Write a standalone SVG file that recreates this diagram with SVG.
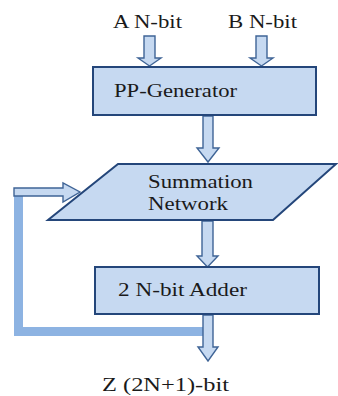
<svg xmlns="http://www.w3.org/2000/svg" width="338" height="396" viewBox="0 0 338 396">
<style>
.box{fill:#c6d9f1;stroke:#24467a;stroke-width:2}
.arr{fill:#c6d9f1;stroke:#3f6496;stroke-width:1.4;stroke-linejoin:miter}
.fb{fill:#8db3e2}
.t{font-family:'Liberation Serif','Times New Roman',serif;font-size:18.5px;fill:#1a1a1a}
</style>
<rect width="338" height="396" fill="#ffffff"/>
<g id="connectors">
<rect class="fb" x="14" y="196" width="9" height="140"/>
<rect class="fb" x="14" y="327" width="190" height="9"/>
<polygon class="arr" points="144,36 155,36 155,58 161,58 149.5,66 138,58 144,58"/>
<polygon class="arr" points="256,36 267,36 267,58 273,58 261.5,66 250,58 256,58"/>
<polygon class="arr" points="203,116 213,116 213,148 219,148 208,162 197,148 203,148"/>
<polygon class="arr" points="202,221 213,221 213,256 218,256 207.5,267 197,256 202,256"/>
<polygon class="arr" points="203,315 213,315 213,347 218,347 208,361 198,347 203,347"/>
<polygon class="arr" points="14,188 63,188 63,183 80,192 63,202 63,196 14,196"/>
</g>
<g id="in-a"><text class="t" x="113" y="28" textLength="69" lengthAdjust="spacingAndGlyphs">A N-bit</text></g>
<g id="in-b"><text class="t" x="228" y="28" textLength="69" lengthAdjust="spacingAndGlyphs">B N-bit</text></g>
<g id="pp-generator">
<rect class="box" x="93" y="67" width="223" height="48"/>
<text class="t" x="114" y="97" textLength="123" lengthAdjust="spacingAndGlyphs">PP-Generator</text>
</g>
<g id="summation-network">
<polygon class="box" points="118,164 336,164 273,220 48,220"/>
<text class="t" x="148" y="188" textLength="105" lengthAdjust="spacingAndGlyphs">Summation</text>
<text class="t" x="148" y="210" textLength="80" lengthAdjust="spacingAndGlyphs">Network</text>
</g>
<g id="adder">
<rect class="box" x="95" y="267" width="224" height="47"/>
<text class="t" x="118" y="296" textLength="129" lengthAdjust="spacingAndGlyphs">2 N-bit Adder</text>
</g>
<g id="out-z"><text class="t" x="102" y="391" textLength="127" lengthAdjust="spacingAndGlyphs">Z (2N+1)-bit</text></g>
</svg>
